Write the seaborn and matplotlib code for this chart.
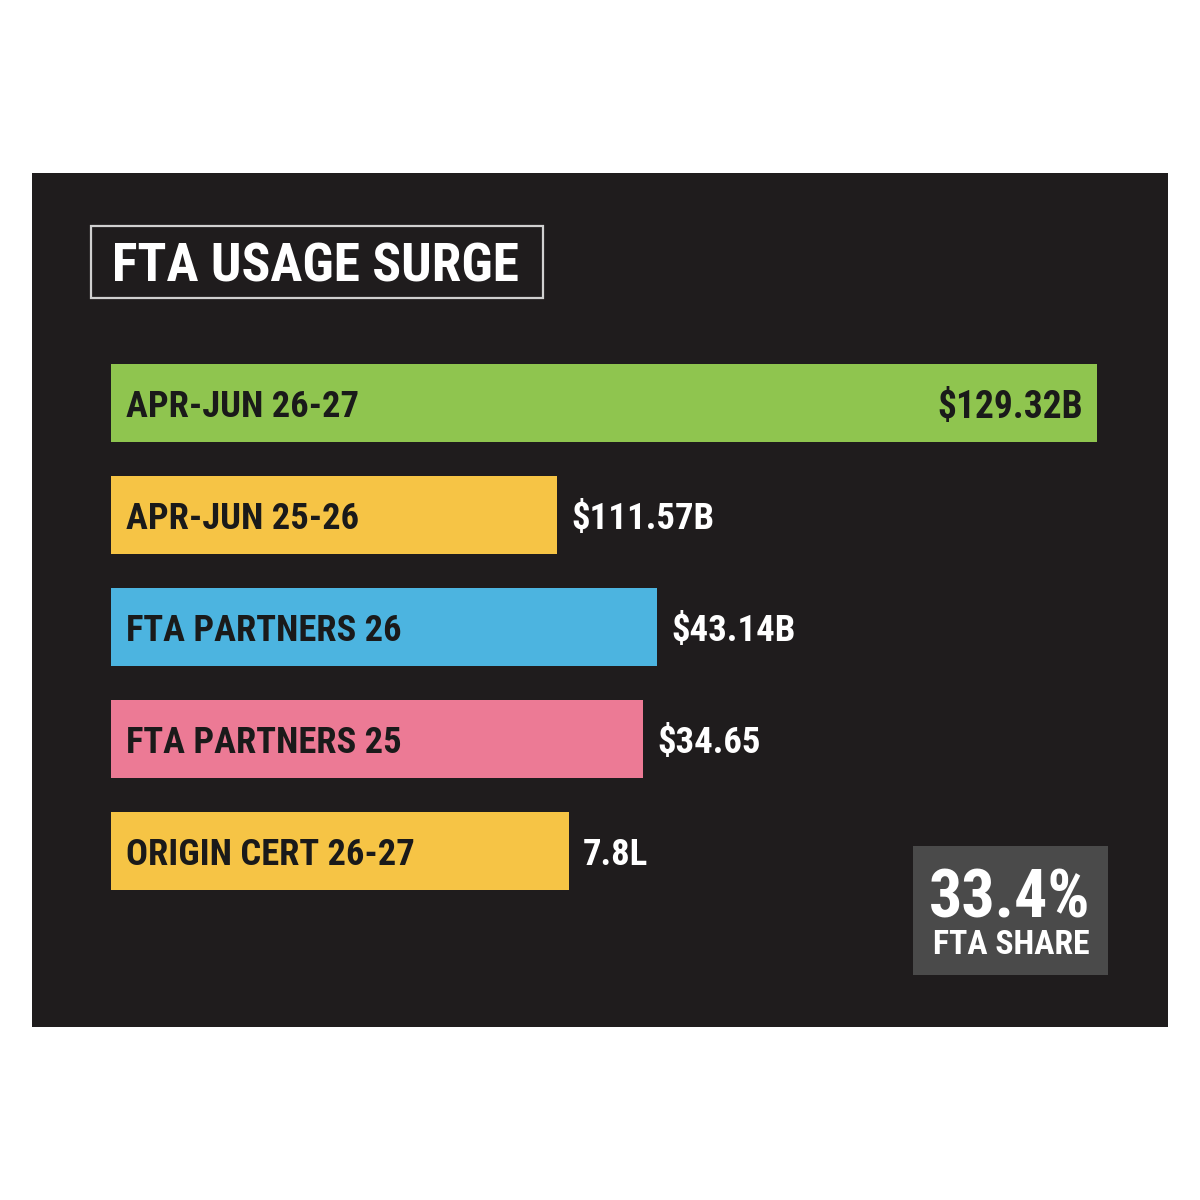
import matplotlib
matplotlib.use('Agg')
import matplotlib.pyplot as plt
from matplotlib.patches import Rectangle
import pandas as pd
import seaborn as sns

# data
categories = ['APR-JUN 26-27', 'APR-JUN 25-26', 'FTA PARTNERS 26', 'FTA PARTNERS 25', 'ORIGIN CERT 26-27']
# drawn bar lengths (the infographic bars are not to scale with the labels)
bar_lengths = [986, 446, 546, 532, 458]
value_labels = ['$129.32B', '$111.57B', '$43.14B', '$34.65', '7.8L']
bar_colors = ['#8fc54f', '#f6c445', '#4cb4e0', '#ec7a95', '#f6c445']
title = 'FTA USAGE SURGE'
share_value = '33.4%'
share_label = 'FTA SHARE'

sns.set_theme(style='white')
plt.rcParams['font.family'] = ['Roboto Condensed', 'Roboto', 'DejaVu Sans']

W = H = 1200
fig = plt.figure(figsize=(12, 12), dpi=100)
fig.patch.set_facecolor('white')

def fx(px):
    return px / W

def fy(py):
    return 1 - py / H

# dark panel
fig.patches.append(Rectangle((fx(32), fy(1027)), fx(1168 - 32), (1027 - 173) / H,
                             transform=fig.transFigure, facecolor='#1f1c1d', edgecolor='none', zorder=-5))
# title box
fig.patches.append(Rectangle((fx(91), fy(298)), fx(543 - 91), (298 - 226) / H,
                             transform=fig.transFigure, facecolor='none', edgecolor='#d0d0d0',
                             linewidth=1.6, zorder=1))
fig.text(fx(112), fy(262), title, color='white', fontsize=38.5, fontweight='bold',
         ha='left', va='center_baseline')

# bars
df = pd.DataFrame({'category': categories, 'length': bar_lengths})
ax = fig.add_axes([fx(111), fy(907), fx(1000), 560 / H])
ax.set_facecolor('none')
sns.barplot(data=df, x='length', y='category', hue='category', palette=bar_colors,
            width=0.705, legend=False, ax=ax, saturation=1, edgecolor='none', linewidth=0)
ax.set_xlim(0, 1000)
ax.set_ylim(4.5, -0.5)
ax.axis('off')

for i, (cat, length, lab) in enumerate(zip(categories, bar_lengths, value_labels)):
    ax.text(15, i, cat, color='#1a1a1a', fontsize=26.3, fontweight='bold',
            ha='left', va='center_baseline')
    if i == 0:
        ax.text(length - 14, i, lab, color='#1a1a1a', fontsize=27, fontweight='bold',
                ha='right', va='center_baseline')
    else:
        ax.text(length + 14, i, lab, color='white', fontsize=26.5, fontweight='bold',
                ha='left', va='center_baseline')

# share box
fig.patches.append(Rectangle((fx(913), fy(975)), fx(1108 - 913), (975 - 846) / H,
                             transform=fig.transFigure, facecolor='#4a4a4a', edgecolor='none', zorder=1))
fig.text(fx(1010), fy(892), share_value, color='white', fontsize=47.5, fontweight='bold',
         ha='center', va='center_baseline')
fig.text(fx(1011), fy(942), share_label, color='white', fontsize=24.3, fontweight='bold',
         ha='center', va='center_baseline')

fig.savefig('out.png', dpi=100, facecolor='white')
